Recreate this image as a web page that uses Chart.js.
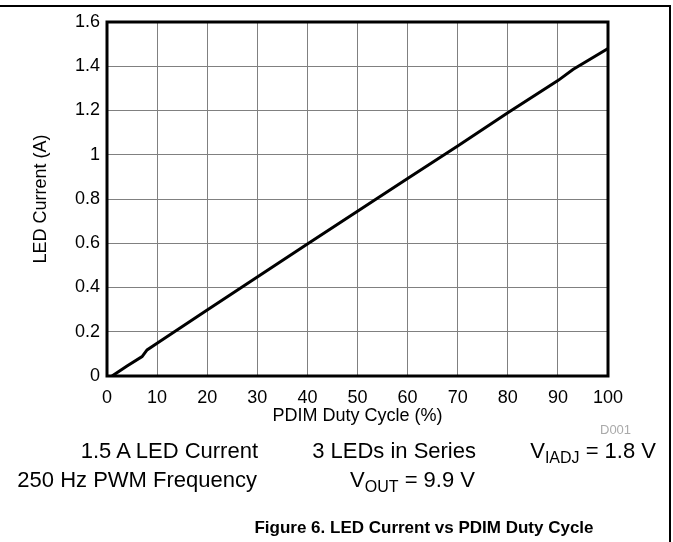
<!DOCTYPE html>
<html>
<head>
<meta charset="utf-8">
<script src="https://cdn.jsdelivr.net/npm/chart.js@4/dist/chart.umd.min.js"></script>
<style>
  body { margin: 0; background: #fff; font-family: "Liberation Sans", Arial, sans-serif; }
  #wrap { position: relative; width: 673px; height: 542px; overflow: hidden; }
  #c { position: absolute; left: 0; top: 0; }
  .rule-top { position: absolute; left: 0; top: 5px; width: 671px; height: 2px; background: #000; }
  .rule-right { position: absolute; left: 669px; top: 5px; width: 2px; height: 540px; background: #000; }
  .note { position: absolute; font-size: 22px; color: #000; white-space: nowrap; }
  .note sub { font-size: 16px; vertical-align: -5px; }
  .code { position: absolute; font-size: 13px; color: #aaa; left: 600px; top: 422px; }
  .fig { position: absolute; font-size: 17px; font-weight: bold; left: 0; width: 848px; text-align: center; top: 518px; }
</style>
</head>
<body>
<div id="wrap">
  <canvas id="c" width="673" height="542"></canvas>
  <div class="rule-top"></div>
  <div class="rule-right"></div>
  <div class="code">D001</div>
  <div class="note" style="right:415px; top:438px;">1.5 A LED Current</div>
  <div class="note" style="right:197px; top:438px;">3 LEDs in Series</div>
  <div class="note" style="right:17px; top:438px;">V<sub>IADJ</sub> = 1.8 V</div>
  <div class="note" style="right:416px; top:467px;">250 Hz PWM Frequency</div>
  <div class="note" style="right:198px; top:467px;">V<sub>OUT</sub> = 9.9 V</div>
  <div class="fig">Figure 6. LED Current vs PDIM Duty Cycle</div>
</div>
<script>
const dutyCycle = [1, 4, 7, 8, 10, 20, 30, 40, 50, 60, 70, 80, 90, 93, 100];
const ledCurrent = [0, 0.045, 0.088, 0.118, 0.148, 0.298, 0.447, 0.597, 0.745, 0.893, 1.04, 1.19, 1.335, 1.385, 1.48];

const xTicks = [0, 10, 20, 30, 40, 50, 60, 70, 80, 90, 100];
const yTicks = [0, 0.2, 0.4, 0.6, 0.8, 1, 1.2, 1.4, 1.6];
const yTickLabels = ['0', '0.2', '0.4', '0.6', '0.8', '1', '1.2', '1.4', '1.6'];

const points = dutyCycle.map((d, i) => ({ x: d, y: ledCurrent[i] }));

const font = { family: '"Liberation Sans", Arial, sans-serif', size: 18 };

// frame around the plot area
const frame = {
    id: 'frame',
    afterDatasetsDraw(chart) {
        const { ctx, chartArea: a } = chart;
        ctx.save();
        ctx.strokeStyle = '#000';
        ctx.lineWidth = 3;
        ctx.strokeRect(a.left, a.top, a.right - a.left, a.bottom - a.top);
        ctx.restore();
    }
};

new Chart('c', {
    type: 'line',
    data: {
        datasets: [{
            data: points,
            borderColor: '#000',
            borderWidth: 3,
            pointRadius: 0,
            tension: 0,
            fill: false
        }]
    },
    options: {
        responsive: false,
        animation: false,
        layout: { padding: { left: 0, top: 22, right: 65, bottom: 114 } },
        plugins: { legend: { display: false }, tooltip: { enabled: false } },
        scales: {
            x: {
                type: 'linear',
                min: 0,
                max: 100,
                afterBuildTicks: s => { s.ticks = xTicks.map(v => ({ value: v })); },
                afterFit: s => { s.height = 52; },
                grid: { color: '#808080', lineWidth: 1, drawTicks: false },
                border: { display: false },
                ticks: { color: '#000', font, padding: 11, maxRotation: 0 },
                title: { display: true, text: 'PDIM Duty Cycle (%)', color: '#000', font, padding: { top: 0, bottom: 1 } }
            },
            y: {
                min: 0,
                max: 1.6,
                afterBuildTicks: s => { s.ticks = yTicks.map(v => ({ value: v })); },
                afterFit: s => { s.width = 107; },
                grid: { color: '#808080', lineWidth: 1, drawTicks: false },
                border: { display: false },
                ticks: {
                    color: '#000', font, padding: 7,
                    callback: (v, i) => yTickLabels[i]
                },
                title: { display: true, text: 'LED Current (A)', color: '#000', font, padding: { top: 30, bottom: 0 } }
            }
        }
    },
    plugins: [frame]
});
</script>
</body>
</html>
